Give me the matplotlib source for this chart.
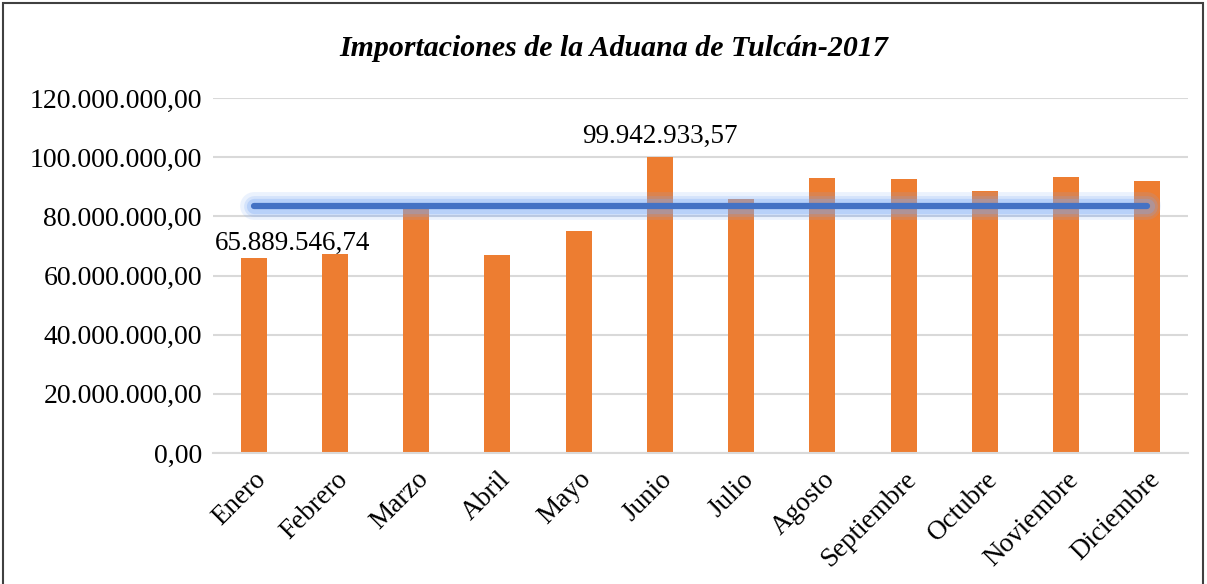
import matplotlib.pyplot as plt
from matplotlib.patches import Rectangle
from matplotlib.ticker import FuncFormatter

meses = ['Enero', 'Febrero', 'Marzo', 'Abril', 'Mayo', 'Junio', 'Julio',
         'Agosto', 'Septiembre', 'Octubre', 'Noviembre', 'Diciembre']
importaciones = [65889546.74, 67300000, 83000000, 66900000, 75200000,
                 99942933.57, 85900000, 92900000, 92600000, 88700000,
                 93300000, 92100000]
promedio = [83640000] * 12
etiquetas = {0: '65.889.546,74', 5: '99.942.933,57'}


def fmt_es(v, pos=None):
    s = f'{v:,.2f}'
    return s.replace(',', '#').replace('.', ',').replace('#', '.')


plt.rcParams['font.family'] = ['Liberation Serif', 'DejaVu Serif']

fig = plt.figure(figsize=(12.07, 5.84), dpi=100)
ax = fig.add_axes([213 / 1207, 1 - 453 / 584, 975 / 1207, 355 / 584])

x = range(len(meses))
ax.bar(x, importaciones, width=0.32, color='#ED7D31', zorder=2)

# linea del promedio con brillo
for lw, a in [(20, 0.15), (15, 0.2), (11, 0.3)]:
    ax.plot(x, promedio, color='#7AA8F5', lw=lw, alpha=a,
            solid_capstyle='round', zorder=3)
ax.plot(x, promedio, color='#4472C4', lw=4.5, solid_capstyle='round', zorder=4)

ax.text(0.48, importaciones[0] + 0.8e6, etiquetas[0], ha='center',
        va='bottom', fontsize=19.5)
ax.text(5, importaciones[5] + 2.8e6, etiquetas[5], ha='center',
        va='bottom', fontsize=19.5)

ax.set_ylim(0, 120000000)
ax.set_xlim(-0.5, 11.5)
ax.set_yticks(range(0, 120000001, 20000000))
ax.yaxis.set_major_formatter(FuncFormatter(fmt_es))
ax.set_xticks(list(x))
ax.set_xticklabels(meses, rotation=45, ha='right', va='top',
                   rotation_mode='anchor', fontsize=19.5)
ax.tick_params(axis='y', labelsize=20, length=0, pad=8)
ax.tick_params(axis='x', length=0, pad=10)
ax.grid(axis='y', color='#D9D9D9', lw=1.5, zorder=0)
for s in ['top', 'right', 'left']:
    ax.spines[s].set_visible(False)
ax.spines['bottom'].set_color('#D9D9D9')
ax.spines['bottom'].set_linewidth(1.5)

fig.text(614 / 1207, 1 - 48 / 584, 'Importaciones de la Aduana de Tulcán-2017',
         ha='center', va='center', fontsize=21.5, fontweight='bold',
         fontstyle='italic')

fig.patches.append(Rectangle((3 / 1207, -0.02), 1200 / 1207, 1.0 - 3 / 584 + 0.02,
                             transform=fig.transFigure, fill=False,
                             edgecolor='#404040', lw=1.5))

fig.savefig('out.png', dpi=100)
